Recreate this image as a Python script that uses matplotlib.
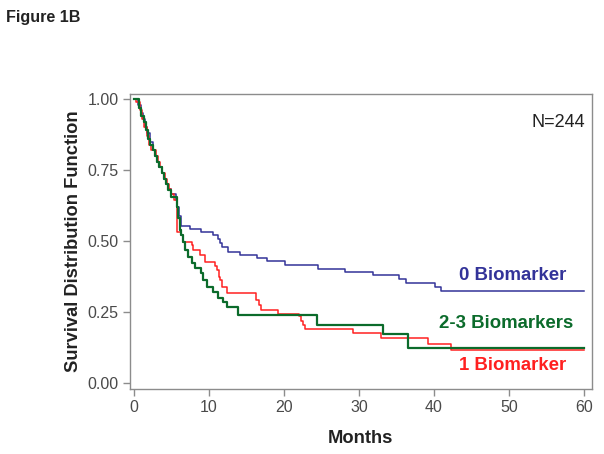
import matplotlib
matplotlib.use("Agg")
import matplotlib.pyplot as plt

plt.rcParams['font.family'] = ['Liberation Sans', 'DejaVu Sans']

# Kaplan-Meier step data (months, survival)
t_zero = [0, 0.5, 0.9, 1.2, 1.5, 1.8, 2.1, 2.5, 2.8, 3.1, 3.4, 3.7, 4.0, 4.3, 4.6,
          5.0, 5.6, 5.8, 6.0, 6.3, 7.5, 9.0, 10.6, 11.2, 11.5, 11.7, 12.6, 14.1,
          16.4, 17.7, 20.1, 24.5, 28.2, 31.9, 35.3, 36.3, 40.1, 40.9, 60]
s_zero = [1.0, 0.98, 0.95, 0.93, 0.90, 0.88, 0.85, 0.82, 0.80, 0.78, 0.76, 0.74, 0.72, 0.70, 0.685,
          0.665, 0.645, 0.62, 0.59, 0.554, 0.542, 0.533, 0.521, 0.506, 0.492, 0.480, 0.462, 0.451,
          0.439, 0.430, 0.415, 0.401, 0.392, 0.380, 0.365, 0.353, 0.337, 0.325, 0.325]

t_one = [0, 0.3, 0.8, 1.1, 1.4, 1.7, 2.0, 2.3, 2.9, 3.2, 3.5, 3.8, 4.1, 4.4, 4.7,
         5.0, 5.4, 5.7, 5.8, 6.3, 6.6, 7.7, 7.9, 8.8, 9.5, 10.8, 11.1, 11.3, 11.5, 11.7,
         12.4, 16.3, 16.7, 17.0, 19.2, 22.0, 22.3, 22.6, 22.8, 29.2, 33.0, 39.2, 42.3, 60]
s_one = [1.0, 0.99, 0.96, 0.93, 0.90, 0.87, 0.84, 0.82, 0.80, 0.78, 0.76, 0.74, 0.72, 0.70, 0.685,
         0.665, 0.645, 0.615, 0.533, 0.52, 0.498, 0.485, 0.468, 0.451, 0.427, 0.412, 0.398, 0.374, 0.363, 0.339,
         0.316, 0.292, 0.275, 0.257, 0.245, 0.235, 0.22, 0.205, 0.192, 0.175, 0.160, 0.136, 0.116, 0.116]

t_two = [0, 0.7, 1.0, 1.3, 1.6, 1.9, 2.2, 2.5, 2.8, 3.1, 3.4, 3.7, 4.0, 4.3, 4.6,
         5.0, 5.7, 5.9, 6.1, 6.3, 6.5, 6.8, 7.2, 7.7, 8.1, 9.0, 9.2, 9.7, 10.6, 11.2,
         11.9, 12.4, 13.9, 24.4, 33.2, 36.5, 60]
s_two = [1.0, 0.97, 0.94, 0.92, 0.89, 0.86, 0.84, 0.82, 0.80, 0.78, 0.76, 0.74, 0.72, 0.70, 0.68,
         0.656, 0.62, 0.58, 0.539, 0.52, 0.498, 0.468, 0.445, 0.423, 0.407, 0.386, 0.363, 0.339, 0.321, 0.298,
         0.284, 0.269, 0.239, 0.206, 0.172, 0.125, 0.125]

labels = ["0 Biomarker", "2-3 Biomarkers", "1 Biomarker"]
colors = ["#333399", "#0b6b2b", "#ff2020"]

fig = plt.figure(figsize=(6.04, 4.54), dpi=100)
ax = fig.add_axes([0.215, 0.143, 0.765, 0.650])

ax.step(t_zero, s_zero, where="post", color=colors[0], lw=1.1)
ax.step(t_one, s_one, where="post", color=colors[2], lw=1.1)
ax.step(t_two, s_two, where="post", color=colors[1], lw=1.6)

ax.set_xlim(-0.53, 61.07)
ax.set_ylim(-0.021, 1.018)
ax.set_xticks([0, 10, 20, 30, 40, 50, 60])
ax.set_yticks([0, 0.25, 0.5, 0.75, 1.0])
ax.set_yticklabels(["0.00", "0.25", "0.50", "0.75", "1.00"])

for sp in ax.spines.values():
    sp.set_color("#8c8c8c")
    sp.set_linewidth(1.0)
ax.tick_params(direction="out", length=5, width=1, color="#8c8c8c",
               labelsize=11.5, labelcolor="#4a4a4a", pad=3)

ax.set_xlabel("Months", fontsize=13.2, fontweight="bold", color="#222222", labelpad=11)
ax.set_ylabel("Survival Distribution Function", fontsize=13.2, fontweight="bold",
              color="#222222", labelpad=4)

ax.text(0.985, 0.905, "N=244", transform=ax.transAxes, ha="right", va="center",
        fontsize=13, color="#222222")

# curve labels at the right
ax.text(57.6, 0.38, labels[0], ha="right", va="center", fontsize=13.4,
        fontweight="bold", color=colors[0])
ax.text(58.6, 0.21, labels[1], ha="right", va="center", fontsize=13.4,
        fontweight="bold", color=colors[1])
ax.text(57.6, 0.061, labels[2], ha="right", va="center", fontsize=13.4,
        fontweight="bold", color=colors[2])

fig.text(0.01, 0.962, "Figure 1B", ha="left", va="center", fontsize=11.6,
         fontweight="bold", color="#222222")

fig.savefig("out.png", dpi=100)
